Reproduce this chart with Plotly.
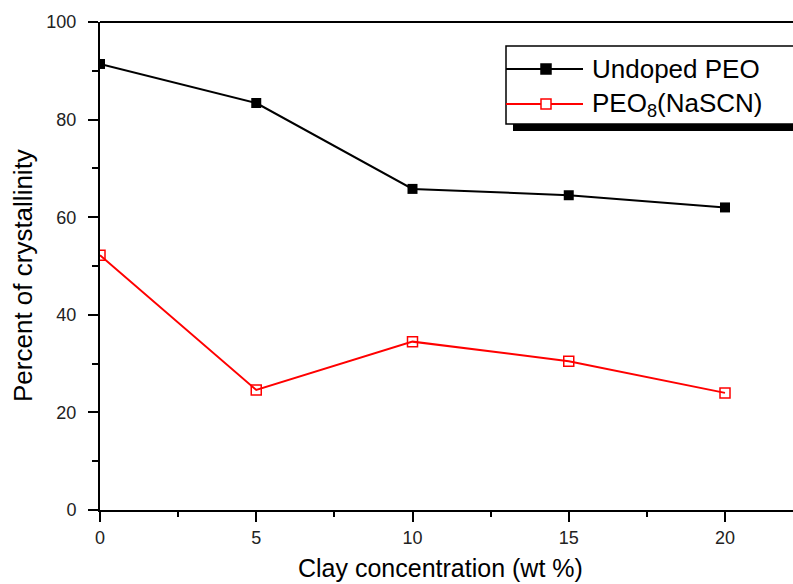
import plotly.graph_objects as go

clay = [0, 5, 10, 15, 20]
undoped_peo = [91.4, 83.4, 65.8, 64.5, 62.0]
peo8_nascn = [52.2, 24.6, 34.5, 30.5, 24.0]
series_names = ["Undoped PEO", "PEO<sub>8</sub>(NaSCN)"]
series_colors = ["black", "#ff0000"]
x_ticks = [0, 5, 10, 15, 20]
y_ticks = [0, 20, 40, 60, 80, 100]

font_family = "Liberation Sans, Arial, sans-serif"

# plot area in pixels
L, R, T, B = 100, 793, 22, 510
def px(x):
    return (x - L) / (R - L)
def py(y):
    return 1 - (y - T) / (B - T)

fig = go.Figure()
fig.add_trace(go.Scatter(
    x=clay, y=undoped_peo, mode="lines+markers", name=series_names[0],
    line=dict(color=series_colors[0], width=2),
    marker=dict(symbol="square", size=10, color=series_colors[0]),
    showlegend=False,
))
fig.add_trace(go.Scatter(
    x=clay, y=peo8_nascn, mode="lines+markers", name=series_names[1],
    line=dict(color=series_colors[1], width=2),
    marker=dict(symbol="square-open", size=10, color=series_colors[1], line=dict(width=1.5)),
    showlegend=False,
))

shapes = [
    # top frame line
    dict(type="line", xref="paper", yref="paper", x0=0, x1=1.02, y0=1, y1=1,
         line=dict(color="black", width=2)),
    # legend drop shadow
    dict(type="rect", xref="paper", yref="paper",
         x0=px(513), x1=1.05, y0=py(131), y1=py(124),
         fillcolor="black", line=dict(width=0)),
    # legend box
    dict(type="rect", xref="paper", yref="paper",
         x0=px(506), x1=1.05, y0=py(124), y1=py(46),
         fillcolor="white", line=dict(color="black", width=1.5)),
]
annotations = []
rows_y = [69, 104]
for name, color, yy, filled in zip(series_names, series_colors, rows_y, [True, False]):
    shapes.append(dict(type="line", xref="paper", yref="paper",
                       x0=px(506), x1=px(583), y0=py(yy), y1=py(yy),
                       line=dict(color=color, width=2)))
    shapes.append(dict(type="rect", xref="paper", yref="paper",
                       x0=px(541), x1=px(551), y0=py(yy + 5), y1=py(yy - 5),
                       fillcolor=color if filled else "white",
                       line=dict(color=color, width=1.5)))
    annotations.append(dict(xref="paper", yref="paper", x=px(590), y=py(yy),
                            xanchor="left", yanchor="middle", showarrow=False,
                            text=name, font=dict(size=26, color="black", family=font_family)))

# y-axis title
annotations.append(dict(xref="paper", yref="paper", x=px(23), y=py(276),
                        xanchor="center", yanchor="middle", showarrow=False,
                        textangle=-90, text="Percent of crystallinity",
                        font=dict(size=26, color="black", family=font_family)))
# x-axis title
annotations.append(dict(xref="paper", yref="paper", x=px(440), y=py(568),
                        xanchor="center", yanchor="middle", showarrow=False,
                        text="Clay concentration (wt %)",
                        font=dict(size=25, color="black", family=font_family)))

fig.update_layout(
    width=793, height=584,
    margin=dict(l=L, r=793 - R, t=T, b=584 - B),
    paper_bgcolor="white", plot_bgcolor="white",
    font=dict(family=font_family, color="#222222"),
    showlegend=False,
    xaxis=dict(
        range=[0, (R - L) / 31.25], showgrid=False, zeroline=False,
        showline=True, linecolor="black", linewidth=2,
        ticks="outside", ticklen=10, tickwidth=2, tickcolor="black",
        tickvals=x_ticks,
        tickfont=dict(size=18, color="#222222"),
        minor=dict(ticks="outside", ticklen=5, tickwidth=2, tickcolor="black", dtick=2.5, tick0=0, showgrid=False),
    ),
    yaxis=dict(
        range=[0, 100], showgrid=False, zeroline=False,
        showline=True, linecolor="black", linewidth=2,
        ticks="outside", ticklen=10, tickwidth=2, tickcolor="black",
        tickvals=y_ticks,
        tickfont=dict(size=18, color="#222222"),
        ticklabelstandoff=8,
        minor=dict(ticks="outside", ticklen=6, tickwidth=2, tickcolor="black", dtick=10, tick0=0, showgrid=False),
    ),
    shapes=shapes,
    annotations=annotations,
)

fig.write_html("out.html")
